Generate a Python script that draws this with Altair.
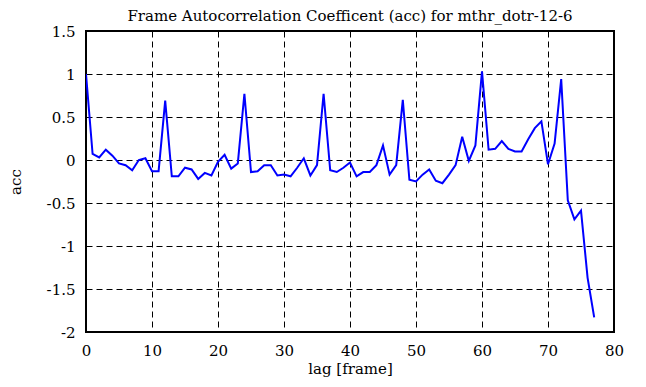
import altair as alt
import pandas as pd

lags = list(range(78))
acc = [1.00, 0.07, 0.03, 0.12, 0.05, -0.04, -0.06, -0.12, 0.00, 0.02,
       -0.13, -0.13, 0.69, -0.19, -0.19, -0.09, -0.11, -0.22, -0.15, -0.18,
       -0.02, 0.06, -0.10, -0.04, 0.77, -0.14, -0.13, -0.06, -0.06, -0.18,
       -0.17, -0.19, -0.09, 0.02, -0.18, -0.06, 0.77, -0.12, -0.14, -0.09,
       -0.03, -0.19, -0.14, -0.14, -0.06, 0.17, -0.17, -0.06, 0.70, -0.23,
       -0.25, -0.17, -0.11, -0.24, -0.27, -0.17, -0.06, 0.27, -0.01, 0.17,
       1.03, 0.12, 0.13, 0.22, 0.13, 0.10, 0.10, 0.24, 0.37, 0.45,
       -0.05, 0.19, 0.94, -0.47, -0.69, -0.59, -1.37, -1.83]
x_ticks = [0, 10, 20, 30, 40, 50, 60, 70, 80]
y_ticks = [-2, -1.5, -1, -0.5, 0, 0.5, 1, 1.5]

df = pd.DataFrame({"lag": lags, "acc": acc})
FONT = "DejaVu Serif"
FS = 15

common = dict(labelFont=FONT, labelFontSize=FS, labelColor="black",
              titleFont=FONT, titleFontSize=FS, titleFontWeight="normal", titleColor="black",
              grid=True, gridColor="black", gridDash=[6, 4], gridWidth=1, gridOpacity=1,
              domain=False, ticks=False, labelFlush=False, labelOverlap=False,
              labelExpr="toString(datum.value)")

chart = alt.Chart(df).mark_line(color="#0000ff", strokeWidth=2, clip=True).encode(
    x=alt.X("lag:Q", scale=alt.Scale(domain=[0, 80], nice=False),
            axis=alt.Axis(values=x_ticks, title="lag [frame]", titlePadding=3,
                          labelPadding=11, **common)),
    y=alt.Y("acc:Q", scale=alt.Scale(domain=[-2, 1.5], nice=False, zero=False),
            axis=alt.Axis(values=y_ticks, title="acc", labelPadding=11, titlePadding=23,
                          **common)),
).properties(
    width=528, height=301,
    title=alt.TitleParams("Frame Autocorrelation Coefficent (acc) for mthr_dotr-12-6",
                          font=FONT, fontSize=FS, fontWeight="normal", color="black",
                          offset=4, dy=4),
    autosize=alt.AutoSizeParams(type="none"),
    padding={"left": 78, "top": 23, "right": 24, "bottom": 47},
).configure_view(
    stroke="black", strokeWidth=2
)

chart.save("out.html", embed_options={"renderer": "svg", "actions": False})
